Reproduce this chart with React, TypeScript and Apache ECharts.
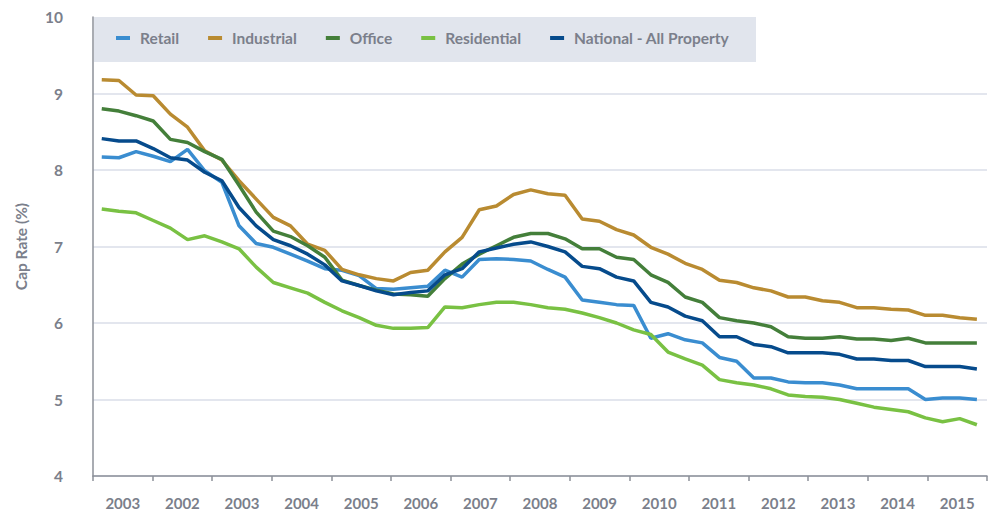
import React, { useEffect, useRef } from "react";
import * as echarts from "echarts";

const yearLabels = ["2003", "2002", "2003", "2004", "2005", "2006", "2007", "2008", "2009", "2010", "2011", "2012", "2013", "2014", "2015"];

const retail = [8.17, 8.16, 8.24, 8.18, 8.11, 8.27, 7.99, 7.84, 7.27, 7.04, 6.99, 6.9, 6.81, 6.71, 6.69, 6.62, 6.45, 6.44, 6.46, 6.48, 6.69, 6.6, 6.83, 6.84, 6.83, 6.81, 6.7, 6.6, 6.3, 6.27, 6.24, 6.23, 5.8, 5.86, 5.78, 5.74, 5.55, 5.5, 5.28, 5.28, 5.23, 5.22, 5.22, 5.19, 5.14, 5.14, 5.14, 5.14, 5.0, 5.02, 5.02, 5.0];
const industrial = [9.18, 9.17, 8.98, 8.97, 8.73, 8.56, 8.25, 8.13, 7.86, 7.62, 7.38, 7.27, 7.03, 6.95, 6.7, 6.63, 6.58, 6.55, 6.66, 6.69, 6.93, 7.12, 7.48, 7.53, 7.68, 7.74, 7.69, 7.67, 7.36, 7.33, 7.22, 7.15, 6.99, 6.9, 6.78, 6.7, 6.56, 6.53, 6.46, 6.42, 6.34, 6.34, 6.29, 6.27, 6.2, 6.2, 6.18, 6.17, 6.1, 6.1, 6.07, 6.05];
const office = [8.8, 8.77, 8.71, 8.64, 8.4, 8.36, 8.24, 8.14, 7.8, 7.45, 7.2, 7.13, 7.01, 6.86, 6.56, 6.49, 6.43, 6.38, 6.37, 6.35, 6.58, 6.77, 6.9, 7.01, 7.12, 7.17, 7.17, 7.1, 6.97, 6.97, 6.86, 6.83, 6.63, 6.53, 6.34, 6.27, 6.07, 6.03, 6.0, 5.95, 5.82, 5.8, 5.8, 5.82, 5.79, 5.79, 5.77, 5.8, 5.74, 5.74, 5.74, 5.74];
const residential = [7.49, 7.46, 7.44, 7.34, 7.24, 7.09, 7.14, 7.06, 6.97, 6.73, 6.53, 6.46, 6.39, 6.27, 6.16, 6.07, 5.97, 5.93, 5.93, 5.94, 6.21, 6.2, 6.24, 6.27, 6.27, 6.24, 6.2, 6.18, 6.13, 6.07, 6.0, 5.91, 5.85, 5.62, 5.53, 5.45, 5.26, 5.22, 5.19, 5.14, 5.06, 5.04, 5.03, 5.0, 4.95, 4.9, 4.87, 4.84, 4.76, 4.71, 4.75, 4.67];
const national = [8.41, 8.38, 8.38, 8.28, 8.16, 8.13, 7.97, 7.86, 7.51, 7.27, 7.09, 7.01, 6.9, 6.76, 6.55, 6.49, 6.42, 6.37, 6.4, 6.42, 6.63, 6.71, 6.93, 6.98, 7.03, 7.06, 7.0, 6.93, 6.74, 6.71, 6.6, 6.55, 6.27, 6.21, 6.09, 6.03, 5.82, 5.82, 5.72, 5.69, 5.61, 5.61, 5.61, 5.59, 5.53, 5.53, 5.51, 5.51, 5.43, 5.43, 5.43, 5.4];

const seriesDefs = [
  { name: "Retail", data: retail, color: "#3a8dd0" },
  { name: "Industrial", data: industrial, color: "#b98b31" },
  { name: "Office", data: office, color: "#447f3a" },
  { name: "Residential", data: residential, color: "#79c143" },
  { name: "National - All Property", data: national, color: "#064b8c" },
];

const gray = "#7b7f8b";
const font = "Lato, 'Open Sans', sans-serif";

export default function App() {
  const ref = useRef<HTMLDivElement>(null);
  useEffect(() => {
    if (!ref.current) return;
    const chart = echarts.init(ref.current, undefined, { renderer: "svg" });
    chart.setOption({
      animation: false,
      backgroundColor: "#ffffff",
      textStyle: { fontFamily: font },
      graphic: [
        {
          type: "rect",
          z: -10,
          shape: { x: 94, y: 17, width: 662, height: 45 },
          style: { fill: "#e1e5ed" },
          silent: true,
        },
      ],
      legend: {
        left: 111,
        top: 25,
        icon: "rect",
        itemWidth: 14,
        itemHeight: 4,
        itemGap: 29,
        textStyle: { fontSize: 15.5, fontWeight: "bold", color: gray, fontFamily: font, padding: [0, 0, 0, 5] },
        data: seriesDefs.map((s) => s.name),
      },
      grid: { left: 93, right: 3, top: 17, bottom: 34 },
      xAxis: [
        { type: "value", show: false, min: -0.51, max: 51.59 },
        {
          type: "category",
          data: yearLabels,
          boundaryGap: true,
          position: "bottom",
          axisLine: { onZero: false, lineStyle: { color: "#8c9099", width: 1.5 } },
          axisTick: { show: true, length: 5, interval: 0, lineStyle: { color: "#8c9099", width: 1.5 } },
          axisLabel: { interval: 0, margin: 19, fontSize: 15, fontWeight: "bold", color: gray, fontFamily: font },
          splitLine: { show: false },
        },
      ],
      yAxis: {
        type: "value",
        min: 4,
        max: 10,
        interval: 1,
        name: "Cap Rate (%)",
        nameLocation: "middle",
        nameGap: 64,
        nameTextStyle: { fontSize: 15.5, fontWeight: "bold", color: gray, fontFamily: font },
        axisLine: { show: true, onZero: false, lineStyle: { color: "#8c9099", width: 1.5 } },
        axisTick: { show: false },
        axisLabel: { margin: 30, fontSize: 15.5, fontWeight: "bold", color: gray, fontFamily: font },
        splitLine: { show: true, showMaxLine: false, lineStyle: { color: "#e3e6ee", width: 2 } },
      },
      series: seriesDefs.map((s) => ({
        name: s.name,
        type: "line",
        xAxisIndex: 0,
        data: s.data.map((v, i) => [i, v]),
        symbol: "none",
        color: s.color,
        lineStyle: { width: 3.5, color: s.color },
        itemStyle: { color: s.color },
      })),
    });
    return () => chart.dispose();
  }, []);
  return <div ref={ref} style={{ width: 990, height: 510, position: "absolute", left: 0, top: 0 }} />;
}
